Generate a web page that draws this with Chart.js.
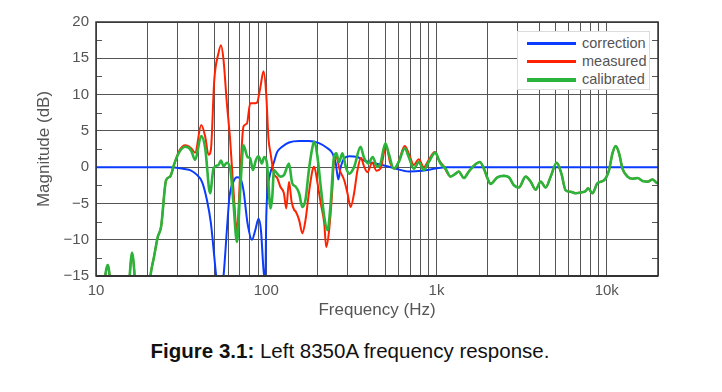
<!DOCTYPE html>
<html lang="en">
<head>
<meta charset="UTF-8" />
<title>Left 8350A frequency response</title>
<script src="https://cdn.jsdelivr.net/npm/chart.js"></script>
<style>
  body { margin: 0; background: #fff; font-family: "Liberation Sans", Arial, sans-serif; }
  #wrap { position: relative; width: 722px; height: 392px; }
  #grafico { position: absolute; left: 0; top: 0; }
  #legenda {
    position: absolute; left: 517px; top: 31px; width: 133px; height: 59px;
    background: #fff; border: 1px solid #dcdcdc; box-sizing: border-box;
  }
  .item { position: absolute; left: 0; height: 18px; width: 130px; }
  .item span.linha { position: absolute; left: 9px; width: 49px; top: 8px; }
  .item span.texto { position: absolute; left: 64px; top: 0; font-size: 14.5px; color: #555; line-height: 18px; }
  #caption {
    position: absolute; left: -22px; top: 339px; width: 744px; text-align: center;
    font-size: 20.5px; color: #111;
  }
</style>
</head>
<body>
<div id="wrap">
  <canvas id="grafico" width="722" height="325"></canvas>
  <div id="legenda"></div>
  <div id="caption"><b>Figure 3.1:</b> Left 8350A frequency response.</div>
</div>

<script>
// frequencias (Hz) e magnitudes (dB)
var freqCorrection = [10, 20, 27, 33.8, 35.7, 38.9, 41.9, 44.8, 47.3, 49.5, 50.8, 53.3, 56.1, 58.7, 60.8, 64.2, 67.3, 70.3, 73.5, 77.6, 82.4, 86.2, 90.1, 93.1, 96.4, 98.7, 100, 101.5, 104, 111, 116, 124, 136, 156, 178, 204, 229, 245, 256, 265, 274, 287, 307, 343, 368, 400, 480, 574, 687, 824, 987, 1130, 2000, 5000, 20000];
var correction = [0, 0, 0, -0.3, -0.4, -1.0, -2.0, -4.5, -7.7, -12.3, -15, -18, -15, -8.7, -4.1, -2.0, -1.4, -1.5, -3.2, -7.7, -10.0, -8.7, -7.1, -8.7, -14.2, -15.8, -7.0, -3.5, -1.5, 0.7, 2.1, 2.8, 3.4, 3.6, 3.6, 3.3, 2.6, 1.9, 0.5, -1.7, 0.05, 1.2, 1.5, 1.4, 1.0, 0.7, 0.3, -0.2, -0.6, -0.5, -0.2, 0, 0, 0, 0];

var freqMeasured = [10, 11.0, 11.72, 12.4, 15.3, 16.29, 17.3, 19.5, 20.87, 21.94, 23.07, 24.12, 25.8, 27.24, 28.88, 30.9, 33.5, 36.2, 38.2, 41.5, 43.8, 45.8, 47.3, 49.5, 52.4, 54.2, 56.1, 58.7, 61.4, 64.2, 67.3, 70.3, 73.5, 77.0, 80.5, 84.2, 88.2, 92.2, 96.4, 100, 103, 106, 111, 116, 121, 127, 131, 136, 141, 146, 149, 156, 163, 170, 178, 187, 191, 200, 209, 219, 225, 234, 245, 250, 258, 270, 287, 300, 313, 328, 343, 360, 374, 393, 419, 444, 469, 506, 536, 569, 600, 651, 687, 736, 787, 842, 901, 977, 1032, 1104, 1209, 1294, 1350, 1448, 1549, 1658, 1798, 1898, 1990, 2078, 2276, 2489, 2663, 2850, 3049, 3338, 3573, 3823, 4091, 4378, 4685, 5080, 5414, 5739, 6142, 6572, 7033, 7523, 7762, 8239, 8817, 9641, 10316, 10803, 11296, 11812, 12370, 13240, 14165, 15158, 16218, 17355, 18569, 19870, 20000];
var measured = [-22, -17, -13.5, -17, -18, -11.8, -18, -22, -15, -12.3, -9.6, -8.2, -1.8, -1.3, 0.5, 2.3, 3.0, 2.6, 2.0, 5.8, 4.2, 1.7, 2.4, 12.0, 15.7, 16.8, 14.8, 8.8, 3.7, -3.2, -8.8, -0.9, 5.6, 6.0, 8.8, 8.8, 8.9, 10.9, 13.2, 10.0, 4.0, 1.9, -0.9, -1.5, -2.7, -3.6, -5.7, -2.0, -4.8, -5.9, -6.1, -7.3, -9.1, -7.3, -3.6, -0.4, 0.05, -2.2, -5.0, -7.7, -11, -8.7, -2.7, 1.0, 1.4, -0.4, -1.8, -3.6, -5.5, -3.6, -0.5, 1.3, 0.2, -0.7, 0.6, -0.5, -0.2, 2.9, 0.5, -0.2, 0.8, 2.9, 1.9, 0.3, 1.1, 0, 1.0, 2.1, 1.0, 0.1, -1.3, -0.9, -0.6, -1.5, -0.6, 0.2, 0.7, -0.2, -1.5, -2.3, -1.4, -1.2, -1.4, -2.5, -2.8, -1.3, -2.0, -3.1, -2.0, -2.8, -1.3, 0.6, -0.9, -3.2, -3.4, -3.6, -3.5, -3.3, -2.9, -3.6, -2.2, -1.8, -0.4, 1.9, 2.9, 1.9, -0.2, -1.3, -1.6, -1.5, -1.9, -2.0, -1.7, -2.2, -2.1];

var freqCalibrated = [10, 11.0, 11.72, 12.4, 15.3, 16.29, 17.3, 19.5, 20.87, 21.94, 23.07, 24.12, 25.8, 27.24, 28.88, 30.9, 33.5, 36.2, 38.2, 41.5, 43.8, 46.8, 49.0, 52.4, 54.2, 56.1, 58.7, 61.4, 64.2, 67.3, 70.3, 73.5, 77.6, 80.5, 83.5, 87.0, 90.1, 94.3, 97.3, 101, 106, 108.5, 111, 116, 121, 127, 136, 142, 149, 156, 163, 170, 178, 187, 191, 200, 209, 219, 229, 239, 250, 258, 268, 280, 293, 307, 328, 358, 374, 397, 422, 448, 469, 501, 524, 561, 600, 651, 687, 736, 787, 842, 901, 985, 1032, 1056, 1130, 1209, 1294, 1350, 1448, 1549, 1658, 1798, 1898, 1990, 2078, 2276, 2489, 2663, 2850, 3049, 3338, 3573, 3823, 4091, 4378, 4685, 5080, 5414, 5739, 6142, 6572, 7033, 7523, 7762, 8239, 8817, 9641, 10316, 10803, 11296, 11812, 12370, 13240, 14165, 15158, 16218, 17355, 18569, 19870, 20000];
var calibrated = [-22, -17, -13.5, -17, -18, -11.8, -18, -22, -15, -12.3, -9.6, -8.2, -1.8, -1.3, 0.5, 2.1, 2.8, 2.3, 1.0, 4.3, 2.6, -3.6, -0.2, 0.3, 0.9, 0.15, 0.6, -0.2, -5.0, -10.3, -3.2, 3.0, 1.4, 1.2, -0.4, 1.0, 1.5, 0.5, 1.4, 0.5, -5.7, -4.1, -0.4, -0.9, -1.3, -1.1, 0.5, -2.2, -2.7, -3.6, -5.5, -4.5, -0.4, 2.8, 3.5, 1.4, -2.7, -6.8, -8.7, -5.0, 1.4, 1.9, 0.7, 1.9, 0.05, -0.9, 0, 2.8, 1.4, 0.5, 1.4, 0.05, 0.5, 3.3, 1.9, -0.2, 0.7, 2.6, 1.4, -0.2, 0.7, -0.4, 0.7, 2.0, 1.0, 0.5, -0.2, -1.3, -0.9, -0.6, -1.5, -0.6, 0.2, 0.7, -0.2, -1.5, -2.3, -1.4, -1.2, -1.4, -2.5, -2.8, -1.3, -2.0, -3.1, -2.0, -2.8, -1.3, 0.6, -0.9, -3.2, -3.4, -3.6, -3.5, -3.3, -2.9, -3.6, -2.2, -1.8, -0.4, 1.9, 2.9, 1.9, -0.2, -1.3, -1.6, -1.5, -1.9, -2.0, -1.7, -2.2, -2.1];

var xTicks = [10, 20, 30, 40, 50, 60, 70, 80, 90, 100, 200, 300, 400, 500, 600, 700, 800, 900, 1000, 2000, 3000, 4000, 5000, 6000, 7000, 8000, 9000, 10000, 20000];
var xLabels = { 10: "10", 100: "100", 1000: "1k", 10000: "10k" };
var yTicks = [-15, -10, -5, 0, 5, 10, 15, 20];

var nomes = ["correction", "measured", "calibrated"];
var cores = ["#0a3cff", "#ff2200", "#2bb43a"];
var larguras = [2, 2, 2.6];

function pontos(xs, ys) {
  var arr = [];
  for (var i = 0; i < xs.length; i++) arr.push({ x: xs[i], y: ys[i] });
  return arr;
}

// moldura e marcas menores do eixo y
const molduraPlugin = {
  id: "moldura",
  afterDraw(chart) {
    const ctx = chart.ctx, a = chart.chartArea, ys = chart.scales.y;
    ctx.save();
    ctx.strokeStyle = "#555";
    ctx.lineWidth = 1;
    for (var v = -12.5; v < 20; v += 5) {
      var py = Math.round(ys.getPixelForValue(v)) + 0.5;
      ctx.beginPath();
      ctx.moveTo(a.left, py); ctx.lineTo(a.left + 6, py);
      ctx.moveTo(a.right, py); ctx.lineTo(a.right - 6, py);
      ctx.stroke();
    }
    ctx.strokeStyle = "#333";
    ctx.lineWidth = 1.5;
    ctx.strokeRect(a.left, a.top, a.right - a.left, a.bottom - a.top);
    ctx.lineWidth = 2;
    ctx.beginPath();
    ctx.moveTo(a.left, a.bottom); ctx.lineTo(a.right, a.bottom);
    ctx.stroke();
    ctx.restore();
  }
};

var datasets = [
  { label: nomes[0], data: pontos(freqCorrection, correction), borderColor: cores[0], borderWidth: larguras[0], order: 2 },
  { label: nomes[1], data: pontos(freqMeasured, measured), borderColor: cores[1], borderWidth: larguras[1], order: 1 },
  { label: nomes[2], data: pontos(freqCalibrated, calibrated), borderColor: cores[2], borderWidth: larguras[2], order: 0 }
];
datasets.forEach(function (d) {
  d.showLine = true;
  d.pointRadius = 0;
  d.fill = false;
  d.cubicInterpolationMode = "monotone";
});

var fonte = { family: "'Liberation Sans', Arial, sans-serif", size: 15 };
var fonteTitulo = { family: "'Liberation Sans', Arial, sans-serif", size: 17 };

new Chart(document.getElementById("grafico"), {
  type: "scatter",
  data: { datasets: datasets },
  options: {
    responsive: false,
    animation: false,
    devicePixelRatio: 1,
    layout: { padding: { left: 0, top: 22, right: 64, bottom: 0 } },
    plugins: { legend: { display: false }, tooltip: { enabled: false } },
    scales: {
      x: {
        type: "logarithmic",
        min: 10,
        max: 20000,
        afterBuildTicks: function (s) { s.ticks = xTicks.map(function (v) { return { value: v }; }); },
        afterFit: function (s) { s.height = 49; },
        ticks: {
          autoSkip: false, maxRotation: 0, padding: 6, color: "#555", font: fonte,
          callback: function (v) { return xLabels[v] || ""; }
        },
        grid: { color: "#555", lineWidth: 1, drawTicks: false },
        border: { display: false },
        title: { display: true, text: "Frequency (Hz)", color: "#555", font: fonteTitulo, padding: { top: 0, bottom: 4 } }
      },
      y: {
        min: -15,
        max: 20,
        afterBuildTicks: function (s) { s.ticks = yTicks.map(function (v) { return { value: v }; }); },
        afterFit: function (s) { s.width = 96; },
        ticks: {
          padding: 7, color: "#555", font: fonte,
          callback: function (v) { return v < 0 ? "\u2212" + Math.abs(v) : String(v); }
        },
        grid: { color: "#555", lineWidth: 1, drawTicks: false },
        border: { display: false },
        title: { display: true, text: "Magnitude (dB)", color: "#555", font: fonteTitulo, padding: { top: 34, bottom: 0 } }
      }
    }
  },
  plugins: [molduraPlugin]
});

// legenda em html
var legenda = document.getElementById("legenda");
for (var i = 0; i < nomes.length; i++) {
  var item = document.createElement("div");
  item.className = "item";
  item.style.top = (2 + i * 18) + "px";
  item.innerHTML = '<span class="linha" style="border-top:' + (i == 2 ? 4 : 3) + 'px solid ' + cores[i] + '"></span><span class="texto">' + nomes[i] + '</span>';
  legenda.appendChild(item);
}
</script>
</body>
</html>
